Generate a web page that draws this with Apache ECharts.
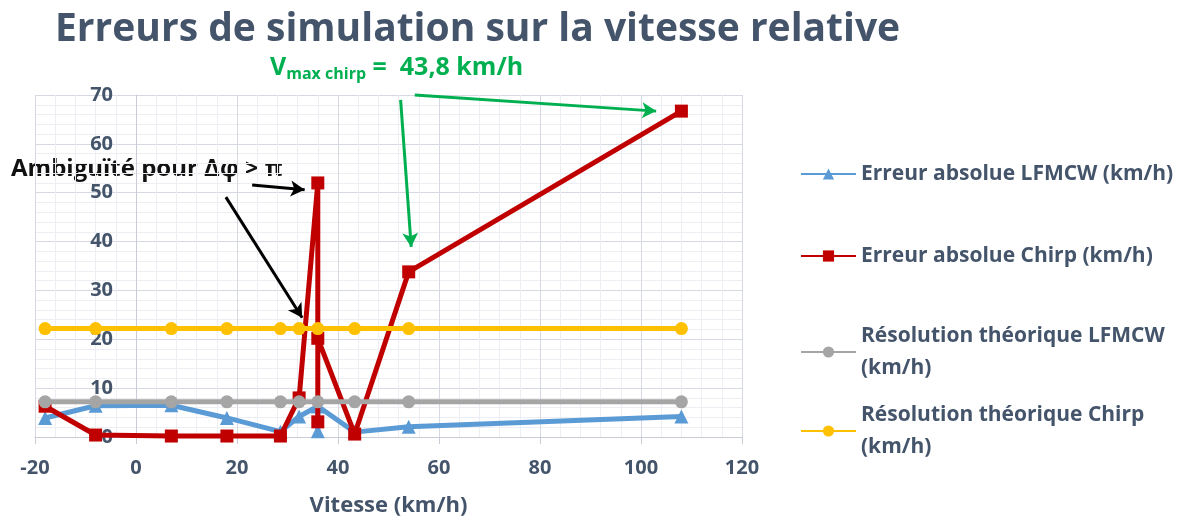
<!DOCTYPE html>
<html>
<head>
<meta charset="utf-8">
<title>Erreurs de simulation sur la vitesse relative</title>
<script src="https://cdn.jsdelivr.net/npm/echarts@6/dist/echarts.min.js"></script>
<style>
  html, body { margin: 0; padding: 0; background: #fff; }
  #chart { width: 1201px; height: 519px; }
</style>
</head>
<body>
<div id="chart"></div>
<script>
// vitesse (km/h) de chaque mesure
const vitesse = [-18, -8, 7, 18, 28.6, 32.3, 36, 36, 36, 43.3, 54, 108];
// erreurs absolues
const erreurLfmcw = [3.9, 6.4, 6.5, 3.9, 1.1, 4.2, 6.3, 1.2, 6.3, 1.0, 2.1, 4.2];
const erreurChirp = [6.3, 0.4, 0.2, 0.2, 0.2, 8.0, 52, 3.1, 20.2, 0.6, 33.8, 66.7];
// résolutions théoriques
const resoVitesse = [-18, -8, 7, 18, 28.6, 32.3, 36, 43.3, 54, 108];
const resoLfmcw = [7.2, 7.2, 7.2, 7.2, 7.2, 7.2, 7.2, 7.2, 7.2, 7.2];
const resoChirp = [22.2, 22.2, 22.2, 22.2, 22.2, 22.2, 22.2, 22.2, 22.2, 22.2];
const vmaxChirp = 43.8;

const seriesNames = [
  "Erreur absolue LFMCW (km/h)",
  "Erreur absolue Chirp (km/h)",
  "Résolution théorique LFMCW (km/h)",
  "Résolution théorique Chirp (km/h)"
];

const FONT = "'Open Sans', 'DejaVu Sans', sans-serif";
const TXT = "#44546a";

const zip = (xs, ys) => xs.map((x, i) => [x, ys[i]]);

const chart = echarts.init(document.getElementById("chart"));

const legendItem = (name, top, twoLines) => ({
  orient: "vertical",
  left: 800,
  top: top,
  padding: 0,
  itemWidth: 55,
  itemHeight: 14,
  itemGap: 0,
  data: [name],
  formatter: (n) => twoLines ? n.replace(" (km/h)", "\n(km/h)") : n,
  textStyle: {
    fontFamily: FONT,
    fontWeight: "bold",
    fontSize: 21,
    color: TXT,
    lineHeight: 32,
    padding: twoLines ? [32, 0, 0, 0] : 0
  }
});

const option = {
  animation: false,
  textStyle: { fontFamily: FONT },
  title: {
    text: "Erreurs de simulation sur la vitesse relative",
    left: 50,
    top: 5,
    textStyle: { fontFamily: FONT, fontWeight: "bold", fontSize: 39, color: TXT }
  },
  legend: [
    legendItem(seriesNames[0], 158, false),
    legendItem(seriesNames[1], 240, false),
    legendItem(seriesNames[2], 304, true),
    legendItem(seriesNames[3], 383, true)
  ],
  grid: { left: 35, right: 459, top: 95, bottom: 82, outerBoundsMode: "none" },
  xAxis: {
    type: "value",
    min: -20,
    max: 120,
    interval: 20,
    name: "Vitesse (km/h)",
    nameLocation: "middle",
    nameGap: 58,
    nameTextStyle: { fontFamily: FONT, fontWeight: "bold", fontSize: 22, color: TXT },
    axisLine: { lineStyle: { color: "#c9ccd6" } },
    axisTick: { show: true, length: 7, lineStyle: { color: "#c9ccd6" } },
    axisLabel: { fontFamily: FONT, fontWeight: "bold", fontSize: 20, color: TXT, margin: 21 },
    splitLine: { lineStyle: { color: "#d6d9e2", width: 1 } },
    minorTick: { show: false, splitNumber: 5 },
    minorSplitLine: { show: true, lineStyle: { color: "#eceef3", width: 1 } }
  },
  yAxis: {
    type: "value",
    min: 0,
    max: 70,
    interval: 10,
    axisLine: { show: true, onZero: true, lineStyle: { color: "#c9ccd6" } },
    axisTick: { show: false },
    // étiquettes placées à côté de l'axe vertical situé en x = 0
    axisLabel: { fontFamily: FONT, fontWeight: "bold", fontSize: 20, color: TXT, margin: -78 },
    splitLine: { lineStyle: { color: "#d6d9e2", width: 1 } },
    minorTick: { show: false, splitNumber: 5 },
    minorSplitLine: { show: true, lineStyle: { color: "#eceef3", width: 1 } }
  },
  graphic: [
    {
      type: "text",
      left: 11,
      top: 157,
      style: {
        text: "Ambiguïté pour Δφ > π",
        fontFamily: FONT,
        fontWeight: "bold",
        fontSize: 24,
        fill: "#111"
      }
    },
    {
      type: "text",
      left: 270,
      top: 55,
      style: {
        text: "{v|V}{s|max chirp}{n| =  43,8 km/h}",
        rich: {
          v: { fontFamily: FONT, fontWeight: "bold", fontSize: 25, fill: "#00b050" },
          s: { fontFamily: FONT, fontWeight: "bold", fontSize: 16, fill: "#00b050", padding: [14, 0, 0, 0] },
          n: { fontFamily: FONT, fontWeight: "bold", fontSize: 25, fill: "#00b050" }
        }
      }
    }
  ],
  series: [
    {
      name: seriesNames[0],
      type: "line",
      data: zip(vitesse, erreurLfmcw),
      color: "#5b9bd5",
      lineStyle: { width: 5 },
      symbol: "triangle",
      symbolSize: 14,
      z: 2
    },
    {
      name: seriesNames[1],
      type: "line",
      data: zip(vitesse, erreurChirp),
      color: "#c00000",
      lineStyle: { width: 5 },
      symbol: "rect",
      symbolSize: 13,
      z: 3
    },
    {
      name: seriesNames[2],
      type: "line",
      data: zip(resoVitesse, resoLfmcw),
      color: "#a5a5a5",
      lineStyle: { width: 5 },
      symbol: "circle",
      symbolSize: 13,
      z: 4
    },
    {
      name: seriesNames[3],
      type: "line",
      data: zip(resoVitesse, resoChirp),
      color: "#ffc000",
      lineStyle: { width: 5 },
      symbol: "circle",
      symbolSize: 13,
      z: 5
    },
    {
      // annotations : Vmax et flèches
      name: "annotations",
      type: "line",
      data: [],
      z: 6,
      markLine: {
        silent: true,
        animation: false,
        label: { show: false },
        symbol: ["none", "none"],
        data: [
          [
            { coord: [vmaxChirp, 70.6], lineStyle: { color: "#00b050", width: 5, type: [13, 6] } },
            { coord: [vmaxChirp, 0] }
          ],
          [
            { coord: [23.0, 51.6], symbol: "none", lineStyle: { color: "#000", width: 3, type: "solid" } },
            { coord: [33.4, 50.6], symbol: "arrow", symbolSize: [12, 14] }
          ],
          [
            { coord: [17.8, 49.1], symbol: "none", lineStyle: { color: "#000", width: 3, type: "solid" } },
            { coord: [32.9, 24.4], symbol: "arrow", symbolSize: [12, 14] }
          ],
          [
            { coord: [55.2, 70.0], symbol: "none", lineStyle: { color: "#00b050", width: 3, type: "solid" } },
            { coord: [103.0, 66.7], symbol: "arrow", symbolSize: [12, 14] }
          ],
          [
            { coord: [52.4, 69.0], symbol: "none", lineStyle: { color: "#00b050", width: 3, type: "solid" } },
            { coord: [54.5, 38.9], symbol: "arrow", symbolSize: [12, 14] }
          ]
        ]
      }
    }
  ]
};

chart.setOption(option);
</script>
</body>
</html>
